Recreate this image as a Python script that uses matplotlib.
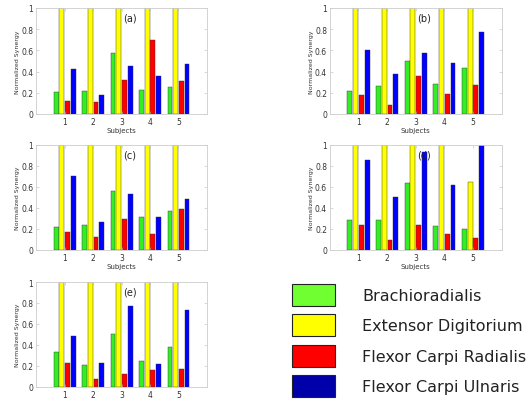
import matplotlib.pyplot as plt
from matplotlib.patches import Patch
from matplotlib.ticker import FormatStrFormatter
import numpy as np

subjects = [1, 2, 3, 4, 5]
muscles = ["Brachioradialis", "Extensor Digitorium", "Flexor Carpi Radialis", "Flexor Carpi Ulnaris"]
panel_labels = ["(a)", "(b)", "(c)", "(d)", "(e)"]

# one list per muscle, per panel
brachio = [
    [0.21, 0.22, 0.57, 0.23, 0.25],
    [0.22, 0.26, 0.50, 0.28, 0.43],
    [0.22, 0.24, 0.56, 0.31, 0.37],
    [0.28, 0.28, 0.64, 0.23, 0.20],
    [0.33, 0.21, 0.50, 0.25, 0.38],
]
extensor = [
    [1.0, 1.0, 1.0, 1.0, 1.0],
    [1.0, 1.0, 1.0, 1.0, 1.0],
    [1.0, 1.0, 1.0, 1.0, 1.0],
    [1.0, 1.0, 1.0, 1.0, 0.65],
    [1.0, 1.0, 1.0, 1.0, 1.0],
]
flexor_rad = [
    [0.12, 0.11, 0.32, 0.70, 0.31],
    [0.18, 0.085, 0.36, 0.19, 0.27],
    [0.17, 0.12, 0.29, 0.15, 0.39],
    [0.24, 0.09, 0.24, 0.15, 0.11],
    [0.23, 0.08, 0.12, 0.16, 0.17],
]
flexor_uln = [
    [0.42, 0.18, 0.45, 0.36, 0.47],
    [0.60, 0.38, 0.57, 0.48, 0.77],
    [0.70, 0.27, 0.53, 0.31, 0.48],
    [0.86, 0.50, 0.93, 0.62, 1.0],
    [0.49, 0.23, 0.77, 0.22, 0.73],
]

bar_colors = ["#33ee22", "#ffff00", "#ff0000", "#0000ff"]
legend_colors = ["#70ff30", "#ffff00", "#ff0000", "#0000aa"]
offsets = [-0.3, -0.1, 0.1, 0.3]

# axes rectangles in figure fractions (left, bottom, width, height)
positions = [
    (0.068, 0.714, 0.321, 0.264),
    (0.620, 0.714, 0.323, 0.264),
    (0.068, 0.376, 0.321, 0.261),
    (0.620, 0.376, 0.323, 0.261),
    (0.068, 0.035, 0.321, 0.261),
]

fig = plt.figure(figsize=(5.32, 4.02), dpi=100)
x = np.array(subjects)

for i, pos in enumerate(positions):
    ax = fig.add_axes(pos)
    series = [brachio[i], extensor[i], flexor_rad[i], flexor_uln[i]]
    for vals, off, col in zip(series, offsets, bar_colors):
        ax.bar(x + off, vals, width=0.17, color=col, edgecolor="#333333", linewidth=0.3)
    ax.set_xlim(0, 6)
    ax.set_ylim(0, 1)
    ax.set_xticks(subjects)
    ax.set_yticks([0, 0.2, 0.4, 0.6, 0.8, 1.0])
    ax.yaxis.set_major_formatter(FormatStrFormatter("%g"))
    ax.tick_params(direction="in", length=2, width=0.4, labelsize=5.5, colors="#bbbbbb",
                   labelcolor="#333333", top=True, right=True, pad=2)
    for sp in ax.spines.values():
        sp.set_color("#cccccc")
        sp.set_linewidth(0.6)
    # the bottom panel's x label falls outside the picture in the original
    if i < 4:
        ax.set_xlabel("Subjects", fontsize=5, color="#333333", labelpad=1)
    ax.set_ylabel("Normalized Synergy", fontsize=4.5, color="#333333", labelpad=1)
    ax.text(3.3, 0.91, panel_labels[i], fontsize=7, color="#222222", ha="center", va="center")

handles = [Patch(facecolor=c, edgecolor="#222222", linewidth=0.8) for c in legend_colors]
fig.legend(handles, muscles, loc="upper left", bbox_to_anchor=(292 / 532, 1 - 285 / 402),
           frameon=False, fontsize=11.5, handlelength=2.7, handleheight=1.74,
           labelspacing=0.52, handletextpad=1.7, borderpad=0, borderaxespad=0,
           labelcolor="#222222")

plt.savefig("out.png", dpi=100)
